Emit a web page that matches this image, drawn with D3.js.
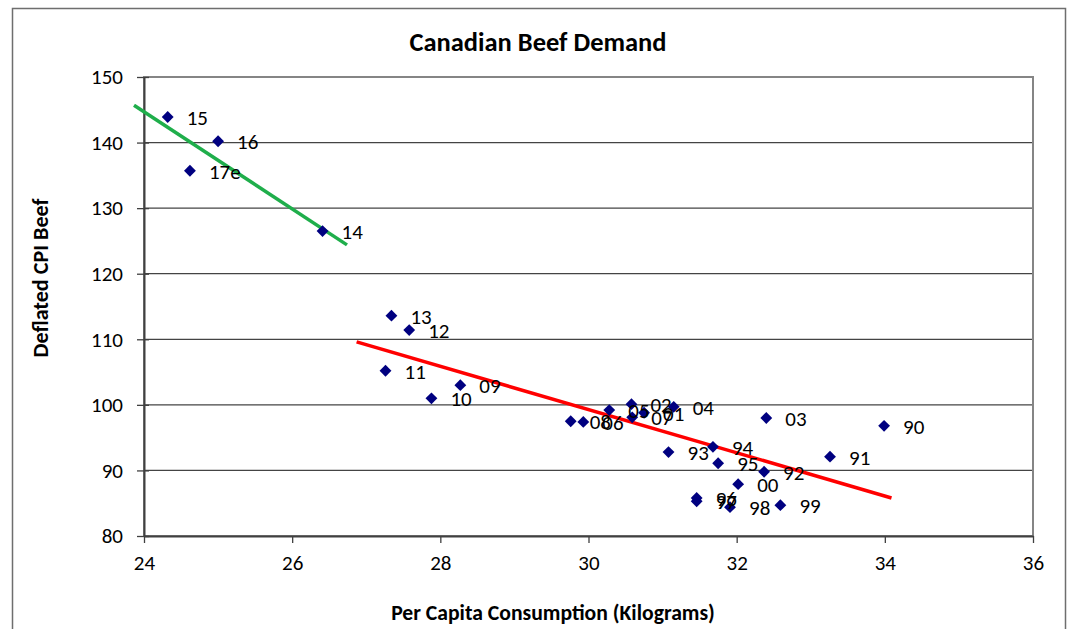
<!DOCTYPE html>
<html>
<head>
<meta charset="utf-8">
<script src="https://cdn.jsdelivr.net/npm/d3@7"></script>
<style>
  html, body { margin: 0; padding: 0; background: #fff; }
  svg { display: block; }
  text { font-family: Carlito, Lato, "Liberation Sans", sans-serif; fill: #000; }
</style>
</head>
<body>
<svg id="chart" width="1068" height="629"></svg>
<script>
// Year labels with per capita consumption (kg) and deflated CPI of beef
const years = ["90","91","92","93","94","95","96","97","98","99","00","01","02","03","04","05","06","07","08","09","10","11","12","13","14","15","16","17e"];
const consumption = [33.99,33.26,32.37,31.08,31.68,31.75,31.46,31.46,31.91,32.59,32.02,30.75,30.58,32.40,31.15,30.28,29.93,30.59,29.76,28.27,27.88,27.26,27.58,27.34,26.41,24.32,25.00,24.62];
const cpiBeef = [96.8,92.1,89.8,92.8,93.6,91.1,85.8,85.3,84.4,84.7,87.9,98.8,100.1,98.0,99.7,99.2,97.4,98.1,97.5,103.0,101.0,105.2,111.4,113.6,126.5,143.9,140.2,135.7];

// Fitted trend lines: [x start, x end] and [y start, y end]
const recentTrendX = [23.865, 26.74];
const recentTrendY = [145.7, 124.4];
const earlierTrendX = [26.87, 34.09];
const earlierTrendY = [109.6, 85.8];

const xTicks = [24, 26, 28, 30, 32, 34, 36];
const yTicks = [80, 90, 100, 110, 120, 130, 140, 150];

const FONT = "Carlito, Lato, 'Liberation Sans', sans-serif";
const svg = d3.select("#chart");
const plot = { left: 144, right: 1033, top: 77, bottom: 536 };

// outer chart frame
svg.append("rect")
  .attr("x", 12.5).attr("y", 8.5)
  .attr("width", 1053).attr("height", 640)
  .attr("fill", "none").attr("stroke", "#6e6e6e").attr("stroke-width", 1.5);

const x = d3.scaleLinear().domain([24, 36]).range([plot.left, plot.right]);
const y = d3.scaleLinear().domain([80, 150]).range([plot.bottom, plot.top]);

// horizontal gridlines
svg.append("g")
  .selectAll("line")
  .data(yTicks.filter(v => v > 80 && v < 150))
  .join("line")
  .attr("x1", plot.left).attr("x2", plot.right)
  .attr("y1", d => y(d)).attr("y2", d => y(d))
  .attr("stroke", "#444").attr("stroke-width", 1.2);

// plot area border
svg.append("rect")
  .attr("x", plot.left).attr("y", plot.top)
  .attr("width", plot.right - plot.left).attr("height", plot.bottom - plot.top)
  .attr("fill", "none").attr("stroke", "#858585").attr("stroke-width", 2);

// axes
const xAxis = svg.append("g")
  .attr("transform", `translate(0,${plot.bottom})`)
  .call(d3.axisBottom(x).tickValues(xTicks).tickSize(7).tickSizeOuter(0).tickPadding(12));
const yAxis = svg.append("g")
  .attr("transform", `translate(${plot.left},0)`)
  .call(d3.axisLeft(y).tickValues(yTicks).tickSize(7).tickSizeOuter(0).tickPadding(14));

[xAxis, yAxis].forEach(g => {
  g.select(".domain").attr("stroke", "#404040").attr("stroke-width", 2);
  g.selectAll(".tick line").attr("stroke", "#404040").attr("stroke-width", 1.3);
  g.selectAll(".tick text").attr("font-size", 21).attr("fill", "#000")
    .style("font-family", FONT);
});
// y ticks cross the axis line
yAxis.selectAll(".tick line").attr("x1", 5);

// trend lines
const line = d3.line().x(d => x(d[0])).y(d => y(d[1]));
svg.append("path")
  .datum(d3.zip(recentTrendX, recentTrendY))
  .attr("d", line).attr("stroke", "#1fae4b").attr("stroke-width", 3.5).attr("fill", "none");
svg.append("path")
  .datum(d3.zip(earlierTrendX, earlierTrendY))
  .attr("d", line).attr("stroke", "#ff0000").attr("stroke-width", 3.5).attr("fill", "none");

// data points
const points = years.map((lab, i) => ({ lab, cx: consumption[i], cy: cpiBeef[i] }));
const diamond = d3.symbol().type(d3.symbolSquare).size(70);
svg.append("g")
  .selectAll("path")
  .data(points)
  .join("path")
  .attr("d", diamond)
  .attr("transform", d => `translate(${x(d.cx)},${y(d.cy)}) rotate(45)`)
  .attr("fill", "#000080");

// year labels to the right of each point
svg.append("g")
  .selectAll("text")
  .data(points)
  .join("text")
  .attr("x", d => x(d.cx) + 19)
  .attr("y", d => y(d.cy) + 8)
  .attr("font-size", 21)
  .text(d => d.lab);

// scale a text's font so that it spans the given width
function fitWidth(sel, width) {
  const base = 20;
  sel.attr("font-size", base);
  const w = sel.node().getComputedTextLength();
  sel.attr("font-size", base * width / w);
  return sel;
}

// titles
fitWidth(svg.append("text")
  .attr("x", 538).attr("y", 51)
  .attr("text-anchor", "middle")
  .attr("font-weight", "bold")
  .text("Canadian Beef Demand"), 257);

fitWidth(svg.append("text")
  .attr("x", 553).attr("y", 620)
  .attr("text-anchor", "middle")
  .attr("font-weight", "bold")
  .text("Per Capita Consumption (Kilograms)"), 324);

fitWidth(svg.append("text")
  .attr("transform", "translate(48,278) rotate(-90)")
  .attr("text-anchor", "middle")
  .attr("font-weight", "bold")
  .text("Deflated CPI Beef"), 159);
</script>
</body>
</html>
